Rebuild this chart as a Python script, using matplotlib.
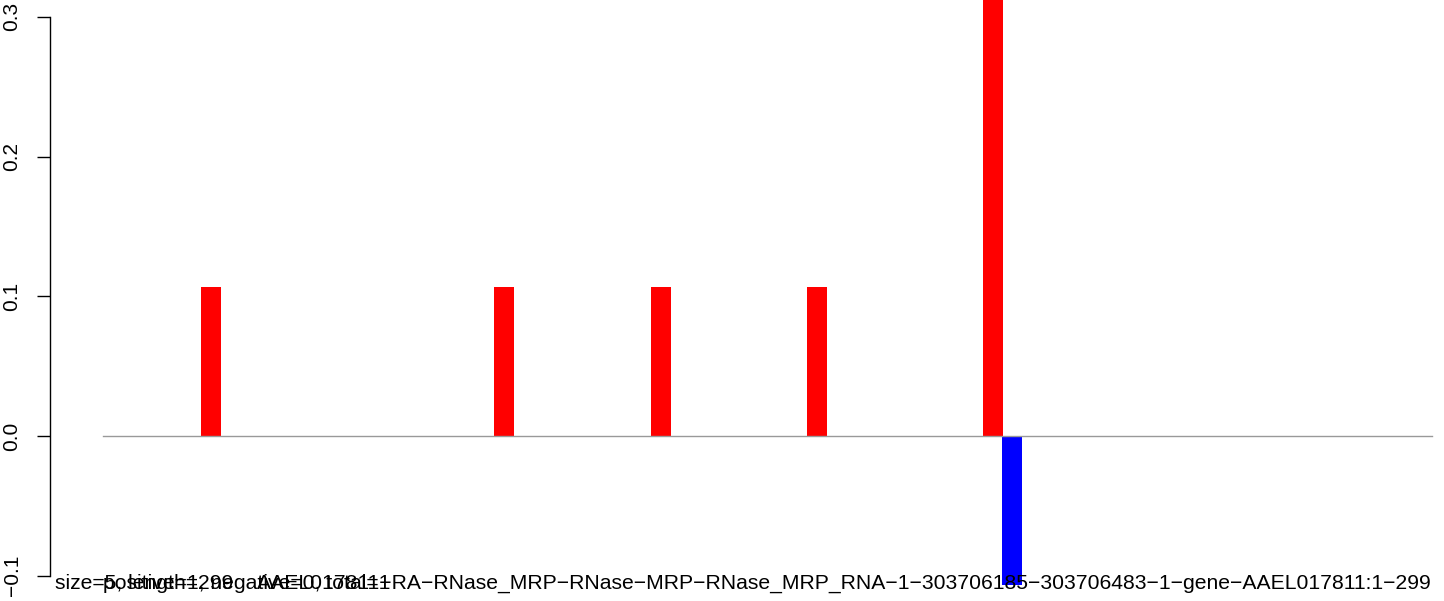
import matplotlib
matplotlib.use("Agg")
import matplotlib.pyplot as plt

# positions along the 299-nt feature and the per-position values
pos_red = [25.2, 90.9, 126.1, 161.1, 200.6]
val_red = [0.1067, 0.1067, 0.1067, 0.1067, 0.32]
pos_blue = [204.9]
val_blue = [-0.1067]
feat_len = 299

yticks = [-0.1, 0.0, 0.1, 0.2, 0.3]
ylabels = ["\u22120.1", "0.0", "0.1", "0.2", "0.3"]

txt_size = "size=5, length=299"
txt_counts = "positive=1, negative=0, total=1"
txt_name = ("AAEL017811\u2212RA\u2212RNase_MRP\u2212RNase\u2212MRP\u2212RNase_MRP_RNA"
            "\u22121\u2212303706185\u2212303706483\u22121\u2212gene\u2212AAEL017811:1\u2212299")

plt.rcParams["font.family"] = ["Liberation Sans", "DejaVu Sans"]

W, H = 1444, 601
fig = plt.figure(figsize=(W / 100, H / 100), dpi=100)
# axes from left spine (x=50) to right edge, y from 585 px to the top
ax = fig.add_axes([50 / W, (H - 585) / H, (W - 50) / W, 585 / H])

bw = 4.45
ax.bar(pos_red, val_red, width=bw, color="#FF0000", linewidth=0)
ax.bar(pos_blue, val_blue, width=bw, color="#0000FF", linewidth=0)
ax.plot([1, feat_len], [0, 0], color="#999999", linewidth=1, zorder=1)

ax.set_xlim(1 - 53 / 4.463, feat_len + 12 / 4.463)
ax.set_ylim(-0.1067, 0.3121)

for s in ["top", "right", "bottom"]:
    ax.spines[s].set_visible(False)
ax.spines["left"].set_bounds(-0.1, 0.3)
ax.spines["left"].set_linewidth(1)
ax.set_xticks([])
ax.set_yticks(yticks)
ax.set_yticklabels(ylabels, rotation=90, va="center", fontsize=15)
ax.tick_params(axis="y", length=9.5, width=1, pad=11)

ty = 1 - 589 / H
fs = 15.25
fig.text(55 / W, ty, txt_size, fontsize=fs, ha="left", va="baseline", zorder=5)
fig.text(103 / W, ty, txt_counts, fontsize=fs, ha="left", va="baseline", zorder=5)
fig.text(1432 / W, ty, txt_name, fontsize=fs, ha="right", va="baseline", zorder=5)

fig.savefig("out.png", dpi=100)
